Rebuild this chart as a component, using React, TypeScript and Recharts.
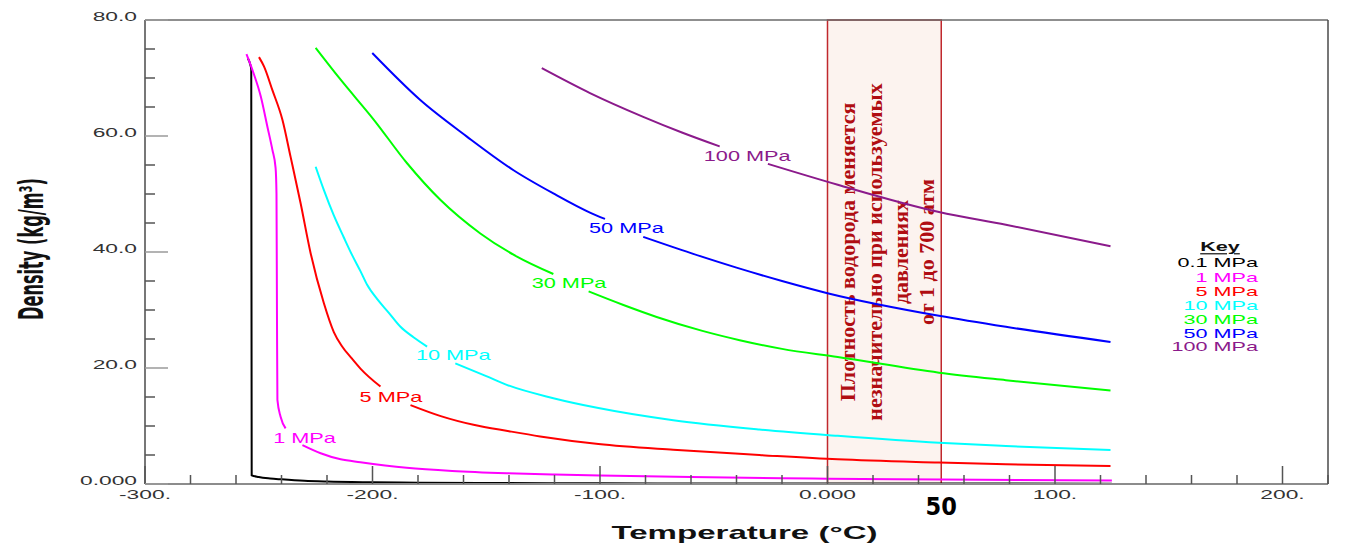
import React from 'react';
import { LineChart, Line, XAxis, YAxis, ReferenceArea, ReferenceDot } from 'recharts';

type Pt = [number, number | null];

// ---- series: [temperature °C, density kg/m3]; null = gap for the inline label ----
const rho01: Pt[] = [[-254.8, 73.4], [-253.8, 72.4], [-253.3, 71.5], [-253.1, 1.5], [-250, 1.2], [-245, 0.95], [-240, 0.8], [-230, 0.55], [-220, 0.42], [-200, 0.3], [-180, 0.23], [-150, 0.17], [-100, 0.12], [-50, 0.1], [0, 0.088], [50, 0.075], [125, 0.06]];
const rho1: Pt[] = [[-255.4, 74.1], [-252.8, 71.4], [-249.1, 66.8], [-246.2, 61.6], [-244, 57.6], [-242.6, 54.5], [-242.2, 50], [-242.0, 30], [-241.8, 14.5], [-240.4, 11.6], [-238.2, 9.6], [-234.5, null], [-230.8, 6.7], [-222.8, 5.3], [-214, 4.25], [-205.3, 3.75], [-185, 2.8], [-165, 2.25], [-141, 1.85], [-120, 1.62], [-100, 1.45], [-60, 1.2], [-20, 1.0], [0, 0.9], [50, 0.77], [125, 0.6]];
const rho5: Pt[] = [[-249.9, 73.6], [-247.7, 72], [-244, 67.9], [-239.6, 62.8], [-236, 56.4], [-231.6, 48.4], [-227.2, 39.8], [-221.4, 31.2], [-217, 26.2], [-213.5, 23.8], [-209, 21.6], [-205.3, 19.9], [-196.5, 16.8], [-190, null], [-183.3, 13.6], [-170, 11.7], [-155.6, 10.2], [-140, 9.1], [-126.3, 8.2], [-100.7, 6.9], [-67.8, 5.9], [-30, 5.0], [4.5, 4.25], [49, 3.7], [78.4, 3.4], [124.4, 3.1]];
const rho10: Pt[] = [[-225, 54.7], [-221.4, 50.7], [-217, 46.3], [-212.6, 42.5], [-209, 39.5], [-205.3, 36.7], [-202.3, 34.3], [-198, 31.9], [-193, 29.6], [-187.7, 27.1], [-182, 25.3], [-176, 23.7], [-170, null], [-163.6, 20.8], [-150, 18.6], [-141, 17.1], [-120.5, 14.8], [-100.7, 13.1], [-67.8, 11.0], [-30, 9.4], [4.5, 8.3], [49, 7.1], [78.4, 6.55], [124.4, 5.86]];
const rho30: Pt[] = [[-225, 75.2], [-214, 69.7], [-199.4, 62.8], [-184.8, 55.3], [-170.2, 49], [-152.6, 43.2], [-136.5, 39.2], [-120.5, 36.2], [-113, null], [-105, 33.2], [-90, 30.9], [-75.1, 28.8], [-55, 26.4], [-38.6, 24.8], [-20, 23.3], [4.5, 21.9], [49, 19.2], [78.4, 17.9], [124.4, 16.1]];
const rho50: Pt[] = [[-200.1, 74.3], [-179, 66.2], [-158.5, 59.9], [-138, 54.1], [-120.5, 50.1], [-104.4, 46.8], [-97.8, 45.7], [-90, null], [-81, 42.6], [-60, 39.8], [-40, 37.3], [-20, 35.0], [0, 32.9], [49, 29], [78.4, 27.1], [124.4, 24.5]];
const rho100: Pt[] = [[-125.6, 71.7], [-104.4, 67.4], [-81, 63.3], [-64, 60.6], [-47.4, 58.2], [-37, null], [-26.2, 55.2], [4.5, 51.6], [49, 46.9], [78.4, 44.7], [124.4, 41.0]];

const seriesNames = ['0.1 MPa', '1 MPa', '5 MPa', '10 MPa', '30 MPa', '50 MPa', '100 MPa'];
const seriesColors = ['#000000', '#ff00ff', '#ff0000', '#00ffff', '#00ff00', '#0000ff', '#8b1a8b'];
const seriesData = [rho01, rho1, rho5, rho10, rho30, rho50, rho100];

// inline curve labels
const curveLabelNames = ['1 MPa', '5 MPa', '10 MPa', '30 MPa', '50 MPa', '100 MPa'];
const curveLabelT = [-229.9, -191.9, -164.5, -113.6, -88.4, -35.3];
const curveLabelRho = [7.9, 15.05, 22.2, 34.7, 44.1, 56.5];
const curveLabelColors = ['#ff00ff', '#ff0000', '#00ffff', '#00ff00', '#0000ff', '#8b1a8b'];

// axes
const xDomain: [number, number] = [-300, 220];
const yDomain: [number, number] = [0, 80];
const xMajorTicks = [-300, -200, -100, 0, 100, 200];
const xMajorLabels = ['-300.', '-200.', '-100.', '0.000', '100.', '200.'];
const yMajorTicks = [0, 20, 40, 60, 80];
const yMajorLabels = ['0.000', '20.0', '40.0', '60.0', '80.0'];
const markedTemp = 50;
const xAllTicks: number[] = [];
for (let v = -300; v <= 220; v += 20) xAllTicks.push(v);
const xBottomTicks = [...xAllTicks, markedTemp];
const yAllTicks: number[] = [];
for (let v = 0; v <= 80; v += 5) yAllTicks.push(v);

// highlighted box
const boxT = [0, 50];
const boxRho = [0, 80];
const boxLines = ['Плотность водорода меняется', 'незначительно при используемых', 'давлениях', 'от 1 до 700 атм'];

const SANS = '"Liberation Sans", Arial, sans-serif';
const NARROW = '"Liberation Sans Narrow", "Arial Narrow", "DejaVu Sans Condensed", sans-serif';
const TICK = '#555555';
const TICK_LIGHT = '#9a9a9a';

const SText = ({ x, y, sx = 1.9, size = 12, anchor = 'middle', fill = '#333', weight = 'normal', family = SANS, rotate = 0, deco, children }: any) => (
  <text
    transform={`translate(${x} ${y}) scale(${sx} 1)${rotate ? ` rotate(${rotate})` : ''}`}
    textAnchor={anchor}
    dominantBaseline="central"
    fontSize={size}
    fontFamily={family}
    fontWeight={weight}
    fill={fill}
    textDecoration={deco}
  >
    {children}
  </text>
);

const BottomTick = (p: any) => {
  const x = Number(p.x);
  const y = Number(p.y);
  const v = p.payload.value;
  if (v === markedTemp) {
    return (
      <text x={x} y={y + 22} textAnchor="middle" dominantBaseline="central" fontFamily={NARROW} fontWeight="bold" fontSize={25} fill="#000">
        {String(markedTemp)}
      </text>
    );
  }
  const idx = xMajorTicks.indexOf(v);
  return (
    <g>
      <rect x={x - 0.75} y={y - (idx >= 0 ? 18 : 9)} width={1.5} height={idx >= 0 ? 18 : 9} fill={TICK} />
      {idx >= 0 && <SText x={x} y={y + 11} size={12} sx={1.9}>{xMajorLabels[idx]}</SText>}
    </g>
  );
};

const TopTick = (p: any) => {
  const x = Number(p.x);
  const y = Number(p.y);
  const major = p.payload.value % 100 === 0;
  return <rect x={x - 0.75} y={y} width={1.5} height={major ? 19 : 9} fill={TICK} />;
};

const LeftTick = (p: any) => {
  const x = Number(p.x);
  const y = Number(p.y);
  const v = p.payload.value;
  const idx = yMajorTicks.indexOf(v);
  const major = idx >= 0;
  return (
    <g>
      <rect x={x} y={y - 0.75} width={major ? 23 : 10} height={1.5} fill={major ? TICK_LIGHT : TICK} />
      {major && <SText x={x - 8} y={y - 2.5} anchor="end" size={12} sx={1.9}>{yMajorLabels[idx]}</SText>}
    </g>
  );
};

const RightTick = (p: any) => {
  const x = Number(p.x);
  const y = Number(p.y);
  const major = p.payload.value % 20 === 0;
  const len = major ? 20 : 11;
  return <rect x={x - len} y={y - 0.75} width={len} height={1.5} fill={major ? TICK : TICK_LIGHT} />;
};

const BoxText = (p: any) => {
  const vb = p.viewBox || { x: 0, y: 0, width: 0, height: 0 };
  const cx = vb.x + vb.width / 2 + 2.5;
  const cy = vb.y + vb.height / 2;
  const offs = [-39, -12, 14, 40];
  return (
    <g>
      {boxLines.map((t, i) => (
        <text
          key={i}
          transform={`translate(${cx + offs[i]} ${cy}) rotate(-90)`}
          textAnchor="middle"
          dominantBaseline="central"
          fontFamily='"Liberation Serif", "Times New Roman", serif'
          fontWeight="bold"
          fontSize={22}
          fill="#b00d12"
        >
          {t}
        </text>
      ))}
    </g>
  );
};

const XTitle = (p: any) => {
  const vb = p.viewBox || { x: 0, y: 0, width: 0, height: 0 };
  return <SText x={vb.x + vb.width / 2 + 8} y={vb.y + 49} size={19} sx={1.74} weight="bold" fill="#111">Temperature (°C)</SText>;
};

const YTitle = (p: any) => {
  const vb = p.viewBox || { x: 0, y: 0, width: 0, height: 0 };
  return <SText x={31} y={vb.y + vb.height / 2 - 3} size={18} sx={1.85} rotate={-90} weight="bold" family={NARROW} fill="#111">Density (kg/m³)</SText>;
};

const legendYs = [33, 48, 62, 76, 90, 104, 117];

export default function App() {
  return (
    <div style={{ position: 'absolute', left: 0, top: 0, width: 1345, height: 544, background: '#fff' }}>
      <LineChart width={1345} height={544} margin={{ top: 0, right: 0, bottom: 0, left: 0 }}>
        <XAxis
          xAxisId={0}
          type="number"
          dataKey="t"
          domain={xDomain}
          ticks={xBottomTicks}
          interval={0}
          tickSize={0}
          tickMargin={0}
          tickLine={false}
          tick={<BottomTick />}
          height={60}
          axisLine={{ stroke: '#8c8c8c', strokeWidth: 2 }}
          label={{ content: <XTitle /> } as any}
        />
        <XAxis
          xAxisId="top"
          orientation="top"
          type="number"
          dataKey="t"
          domain={xDomain}
          ticks={xAllTicks}
          interval={0}
          tickSize={0}
          tickMargin={0}
          tickLine={false}
          tick={<TopTick />}
          height={20}
          axisLine={{ stroke: '#6a6a6a', strokeWidth: 1.5 }}
        />
        <YAxis
          yAxisId={0}
          type="number"
          domain={yDomain}
          ticks={yAllTicks}
          interval={0}
          tickSize={0}
          tickMargin={0}
          tickLine={false}
          tick={<LeftTick />}
          width={145}
          axisLine={{ stroke: '#4a4a4a', strokeWidth: 1.5 }}
          label={{ content: <YTitle /> } as any}
        />
        <YAxis
          yAxisId="right"
          orientation="right"
          type="number"
          domain={yDomain}
          ticks={yAllTicks}
          interval={0}
          tickSize={0}
          tickMargin={0}
          tickLine={false}
          tick={<RightTick />}
          width={17}
          axisLine={{ stroke: '#4a4a4a', strokeWidth: 1.5 }}
        />
        {seriesData.map((d, i) => (
          <Line
            key={seriesNames[i]}
            name={seriesNames[i]}
            data={d.map(([t, rho]) => ({ t, rho }))}
            dataKey="rho"
            type="monotone"
            stroke={seriesColors[i]}
            strokeWidth={2}
            dot={false}
            activeDot={false}
            connectNulls={false}
            isAnimationActive={false}
          />
        ))}
        {curveLabelNames.map((n, i) => (
          <ReferenceDot
            key={n}
            x={curveLabelT[i]}
            y={curveLabelRho[i]}
            r={0}
            fill="none"
            stroke="none"
            label={{
              content: (p: any) => {
                const vb = p.viewBox || { x: 0, y: 0, width: 0, height: 0 };
                return <SText x={vb.x + vb.width / 2} y={vb.y + vb.height / 2} size={14} sx={1.55} fill={curveLabelColors[i]}>{n}</SText>;
              },
            } as any}
          />
        ))}
        <ReferenceArea
          x1={boxT[0]}
          x2={boxT[1]}
          y1={boxRho[0]}
          y2={boxRho[1]}
          fill="#f2cdbd"
          fillOpacity={0.24}
          stroke="#c0282d"
          strokeWidth={1.5}
          strokeOpacity={1}
          label={<BoxText />}
        />
      </LineChart>
      <svg width={140} height={130} style={{ position: 'absolute', left: 1150, top: 230, pointerEvents: 'none' }}>
        <SText x={70} y={17} size={12} sx={1.8} weight="bold" fill="#111" deco="underline">Key</SText>
        {seriesNames.map((n, i) => (
          <SText key={n} x={108} y={legendYs[i]} anchor="end" size={12} sx={1.8} fill={seriesColors[i]}>{n}</SText>
        ))}
      </svg>
    </div>
  );
}
